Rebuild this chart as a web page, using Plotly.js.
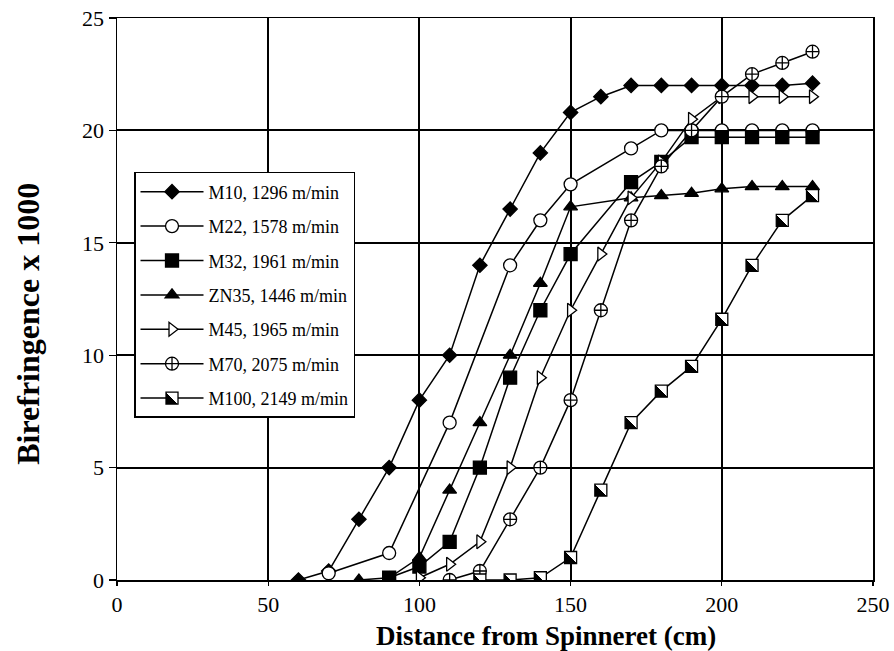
<!DOCTYPE html>
<html>
<head>
<meta charset="utf-8">
<script src="https://cdn.plot.ly/plotly-3.0.1.min.js"></script>
<style>
  html, body { margin: 0; padding: 0; background: #fff; }
  #chart { width: 894px; height: 651px; }
</style>
</head>
<body>
<div id="chart"></div>
<script>
// Birefringence profiles along the spinline (distance in cm, birefringence x 1000)
const seriesNames = [
  "M10, 1296 m/min",
  "M22, 1578 m/min",
  "M32, 1961 m/min",
  "ZN35, 1446 m/min",
  "M45, 1965 m/min",
  "M70, 2075 m/min",
  "M100, 2149 m/min"
];

const m10X = [60, 70, 80, 90, 100, 110, 120, 130, 140, 150, 160, 170, 180, 190, 200, 210, 220, 230];
const m10Y = [0, 0.4, 2.7, 5, 8, 10, 14, 16.5, 19, 20.8, 21.5, 22, 22, 22, 22, 22, 22, 22.1];

const m22X = [70, 90, 110, 130, 140, 150, 170, 180, 190, 200, 210, 220, 230];
const m22Y = [0.3, 1.2, 7, 14, 16, 17.6, 19.2, 20, 20, 20, 20, 20, 20];

const m32X = [90, 100, 110, 120, 130, 140, 150, 170, 180, 190, 200, 210, 220, 230];
const m32Y = [0.1, 0.6, 1.7, 5, 9, 12, 14.5, 17.7, 18.6, 19.7, 19.7, 19.7, 19.7, 19.7];

const zn35X = [80, 90, 100, 110, 120, 130, 140, 150, 170, 180, 190, 200, 210, 220, 230];
const zn35Y = [0, 0.1, 1, 4, 7, 10, 13.2, 16.6, 17, 17.1, 17.2, 17.4, 17.5, 17.5, 17.5];

const m45X = [100, 110, 120, 130, 140, 150, 160, 170, 180, 190, 200, 210, 220, 230];
const m45Y = [0.1, 0.7, 1.7, 5, 9, 12, 14.5, 17, 18.6, 20.5, 21.5, 21.5, 21.5, 21.5];

const m70X = [110, 120, 130, 140, 150, 160, 170, 180, 190, 200, 210, 220, 230];
const m70Y = [0, 0.4, 2.7, 5, 8, 12, 16, 18.4, 20, 21.5, 22.5, 23, 23.5];

const m100X = [120, 130, 140, 150, 160, 170, 180, 190, 200, 210, 220, 230];
const m100Y = [0, 0, 0.1, 1, 4, 7, 8.4, 9.5, 11.6, 14, 16, 17.1];

const xTicks = [0, 50, 100, 150, 200, 250];
const yTicks = [0, 5, 10, 15, 20, 25];

const xTitle = "Distance from Spinneret (cm)";
const yTitle = "Birefringence x 1000";

const INK = "#000000";
const PAPER = "#ffffff";
const SERIF = "Liberation Serif, Times New Roman, serif";

function series(name, xs, ys, symbol, size, fill, group, extraMarker) {
  return {
    type: "scatter",
    mode: "lines+markers",
    name: name,
    x: xs,
    y: ys,
    legendgroup: group,
    line: { color: INK, width: 1.5 },
    marker: Object.assign(
      { symbol: symbol, size: size, color: fill, line: { color: INK, width: 1.3 } },
      extraMarker || {}
    ),
    hoverinfo: "x+y+name"
  };
}

const traces = [
  series(seriesNames[0], m10X, m10Y, "diamond", 11, INK, "m10"),
  series(seriesNames[1], m22X, m22Y, "circle", 13, PAPER, "m22"),
  series(seriesNames[2], m32X, m32Y, "square", 13, INK, "m32"),
  series(seriesNames[3], zn35X, zn35Y, "triangle-up", 12, INK, "zn35"),
  series(seriesNames[4], m45X, m45Y, "triangle-right", 12, PAPER, "m45"),
  series(seriesNames[5], m70X, m70Y, "circle-cross", 13, PAPER, "m70"),
  // half-shaded squares: the gradient is turned into a hard diagonal split below
  series(seriesNames[6], m100X, m100Y, "square", 12, PAPER, "m100", {
    gradient: { type: "horizontal", color: INK }
  })
];

const axisCommon = {
  showline: true,
  mirror: true,
  linecolor: INK,
  linewidth: 1.5,
  showgrid: true,
  gridcolor: INK,
  gridwidth: 2,
  zeroline: false,
  ticks: "outside",
  tickwidth: 1.2,
  tickcolor: INK,
  tickfont: { family: SERIF, size: 22, color: INK }
};

const layout = {
  width: 894,
  height: 651,
  paper_bgcolor: PAPER,
  plot_bgcolor: PAPER,
  margin: { l: 117, r: 21, t: 18, b: 71 },
  showlegend: true,
  font: { family: SERIF, color: INK },
  xaxis: Object.assign({}, axisCommon, {
    range: [0, 250],
    ticklen: 4,
    tickvals: xTicks,
    ticktext: xTicks.map(String)
  }),
  yaxis: Object.assign({}, axisCommon, {
    range: [0, 25],
    ticklen: 7,
    tickvals: yTicks,
    ticktext: yTicks.map(String)
  }),
  annotations: [
    {
      text: "<b>" + xTitle + "</b>",
      xref: "paper", yref: "paper",
      x: 0.568, y: -0.1,
      xanchor: "center", yanchor: "middle",
      showarrow: false,
      font: { family: SERIF, size: 27, color: INK }
    },
    {
      text: "<b>" + yTitle + "</b>",
      xref: "paper", yref: "paper",
      x: -0.117, y: 0.455,
      xanchor: "center", yanchor: "middle",
      textangle: -90,
      showarrow: false,
      font: { family: SERIF, size: 32, color: INK }
    }
  ],
  legend: {
    xref: "paper",
    yref: "paper",
    x: 0.0225,
    y: 0.726,
    xanchor: "left",
    yanchor: "top",
    font: { family: SERIF, size: 18, color: INK },
    itemwidth: 63,
    traceorder: "grouped",
    tracegroupgap: 8,
    bgcolor: PAPER,
    bordercolor: INK,
    borderwidth: 1.5,
    itemclick: false,
    itemdoubleclick: false
  }
};

// Sharp diagonal split: dark lower-left half, light upper-right half
function splitGradients(gd) {
  const NS = "http://www.w3.org/2000/svg";
  gd.querySelectorAll("linearGradient").forEach(function (g) {
    g.setAttribute("x1", "0");
    g.setAttribute("y1", "1");
    g.setAttribute("x2", "1");
    g.setAttribute("y2", "0");
    while (g.firstChild) g.removeChild(g.firstChild);
    [[0, INK], [0.5, INK], [0.5, PAPER], [1, PAPER]].forEach(function (s) {
      const stop = document.createElementNS(NS, "stop");
      stop.setAttribute("offset", String(s[0]));
      stop.setAttribute("stop-color", s[1]);
      stop.setAttribute("stop-opacity", "1");
      g.appendChild(stop);
    });
  });
}

Plotly.newPlot("chart", traces, layout, { staticPlot: true, displayModeBar: false })
  .then(splitGradients);
</script>
</body>
</html>
